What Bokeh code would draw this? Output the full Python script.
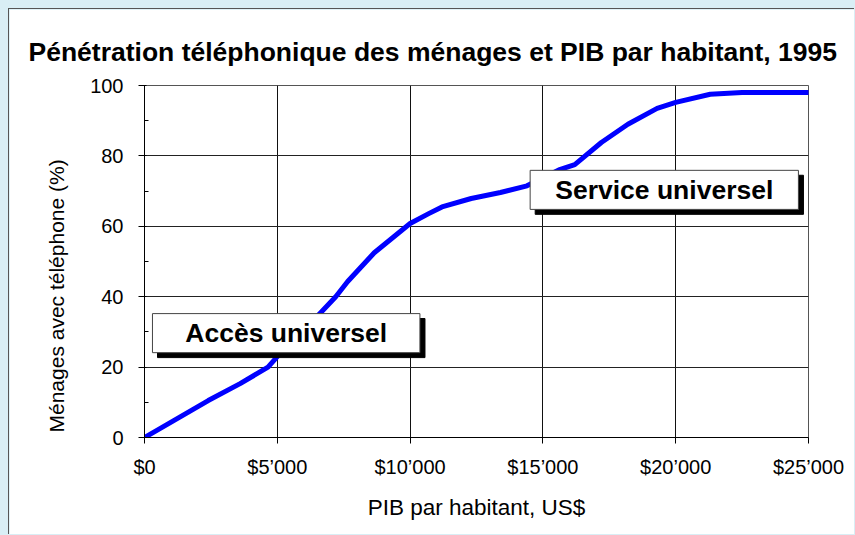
from bokeh.plotting import figure
from bokeh.models import FixedTicker, Range1d, ColumnDataSource, Title
from bokeh.core.properties import value
from bokeh.embed import file_html
from bokeh.resources import INLINE

# ---- data ----
gdp = [0, 1100, 2400, 3600, 4650, 5000, 6000, 6640, 7200, 7650, 8650, 10000,
       10700, 11200, 12300, 13400, 14400, 15600, 16200, 17200, 18200, 19300,
       20000, 21300, 22500, 25000]
penetration = [0, 4.8, 10.5, 15.3, 20, 23, 30.5, 35.5, 40, 44.3, 52.5, 60.8,
               63.6, 65.5, 67.9, 69.6, 71.5, 76, 77.5, 83.8, 89, 93.5,
               95.2, 97.5, 98, 98]

x_ticks = [0, 5000, 10000, 15000, 20000, 25000]
x_tick_labels = ["$0", "$5\u2019000", "$10\u2019000", "$15\u2019000", "$20\u2019000", "$25\u2019000"]
y_ticks = [0, 20, 40, 60, 80, 100]
y_minor = [10, 30, 50, 70, 90]

box_texts = ["Acc\u00e8s universel", "Service universel"]
box_left = [300, 14520]
box_right = [10370, 24620]
box_bottom = [24.1, 64.8]
box_top = [35.2, 75.9]

FONT = "Liberation Sans"

p = figure(width=846, height=526, x_range=Range1d(0, 25000), y_range=Range1d(0, 100),
           output_backend="svg", toolbar_location=None,
           min_border_left=135, min_border_right=47, min_border_top=76, min_border_bottom=98)
p.styles = {"border-left": "1px solid #555555", "border-top": "1px solid #555555"}
p.background_fill_color = "white"
p.border_fill_color = "white"
p.outline_line_color = "#555555"

p.title.text = "P\u00e9n\u00e9tration t\u00e9l\u00e9phonique des m\u00e9nages et PIB par habitant, 1995"
p.title.align = "left"
p.title.offset = -116
p.title.standoff = 38
p.title.text_font = FONT
p.title.text_font_style = "bold"
p.title.text_font_size = "26.5px"
p.title.text_color = "black"

# axes
p.xaxis.ticker = FixedTicker(ticks=x_ticks, minor_ticks=[])
p.xaxis.major_label_overrides = dict(zip(x_ticks, x_tick_labels))
p.yaxis.ticker = FixedTicker(ticks=y_ticks, minor_ticks=y_minor)
p.xaxis.axis_label = "PIB par habitant, US$"
for ax in (p.xaxis[0], p.yaxis[0]):
    ax.axis_line_color = "black"
    ax.major_tick_line_color = "black"
    ax.minor_tick_line_color = "black"
    ax.major_label_text_font = FONT
    ax.major_label_text_font_size = "20px"
    ax.major_label_text_color = "black"
    ax.axis_label_text_font = FONT
    ax.axis_label_text_font_style = "normal"
    ax.axis_label_text_color = "black"
p.xaxis.axis_label_text_font_size = "22.5px"
p.xaxis.major_tick_in = 0
p.xaxis.major_tick_out = 6
p.xaxis.minor_tick_in = 0
p.xaxis.minor_tick_out = 0
p.xaxis.major_label_standoff = 12
p.xaxis.axis_label_standoff = 14
p.yaxis.major_tick_in = 2
p.yaxis.major_tick_out = 6
p.yaxis.minor_tick_in = 4
p.yaxis.minor_tick_out = 0
p.yaxis.major_label_standoff = 15

# y axis title (starts near the bottom of the axis in the reference)
ytitle = Title(text="M\u00e9nages avec t\u00e9l\u00e9phone (%)", align="left", offset=5,
               standoff=39, text_font=FONT, text_font_size="21px",
               text_font_style="normal", text_color="black")
p.add_layout(ytitle, "left")

# grid
p.xgrid.ticker = FixedTicker(ticks=x_ticks)
p.ygrid.ticker = FixedTicker(ticks=y_ticks)
p.xgrid.grid_line_color = "#111111"
p.ygrid.grid_line_color = "#222222"
p.xgrid.grid_line_width = 1
p.ygrid.grid_line_width = 1

# curve
p.line(gdp, penetration, line_width=5, line_color="#0000ff", line_join="round", line_cap="round")

# label boxes with drop shadow
dx, dy = 190, 1.4
shadow = ColumnDataSource(dict(left=[v + dx for v in box_left], right=[v + dx for v in box_right],
                               bottom=[v - dy for v in box_bottom], top=[v - dy for v in box_top]))
boxes = ColumnDataSource(dict(left=box_left, right=box_right, bottom=box_bottom, top=box_top,
                              text=box_texts,
                              cx=[(a + b) / 2 for a, b in zip(box_left, box_right)],
                              cy=[(a + b) / 2 for a, b in zip(box_bottom, box_top)]))
p.quad(left="left", right="right", bottom="bottom", top="top", source=shadow,
       fill_color="black", line_color="black")
p.quad(left="left", right="right", bottom="bottom", top="top", source=boxes,
       fill_color="white", line_color="#444444", line_width=1)
p.text(x="cx", y="cy", text="text", source=boxes, text_font=value(FONT),
       text_font_style="bold", text_font_size="26.5px", text_align="center",
       text_baseline="middle", text_color="black")

html = file_html(p, INLINE)
html = html.replace("</head>",
                    "<style>html, body { background: #d9eef5; } "
                    "body { margin: 0 !important; padding: 8px 0 0 8px !important; "
                    "box-sizing: border-box; overflow: hidden; }</style></head>", 1)
open("out.html", "w").write(html)
